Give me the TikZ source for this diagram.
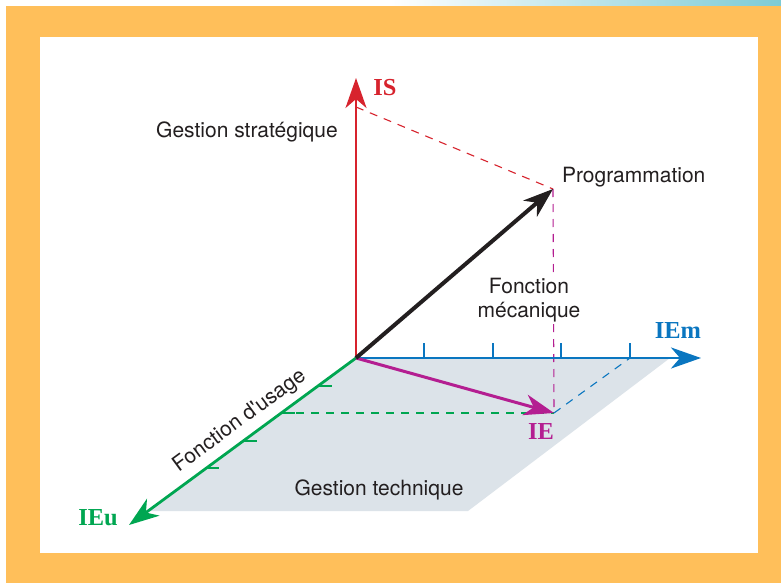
\documentclass[tikz,border=0pt]{standalone}
\usepackage{fontspec}
\setmainfont{TeX Gyre Heros}
\newfontfamily\axisfont{Liberation Serif}
\usetikzlibrary{arrows.meta,positioning}
\definecolor{frameorange}{RGB}{255,191,90}
\definecolor{stripteal}{RGB}{125,203,213}
\definecolor{planegray}{RGB}{220,227,233}
\definecolor{isred}{RGB}{215,35,45}
\definecolor{iemblue}{RGB}{10,118,192}
\definecolor{ieugreen}{RGB}{0,166,81}
\definecolor{iepurple}{RGB}{180,30,145}
\definecolor{vecblack}{RGB}{35,31,32}

\begin{document}
\begin{tikzpicture}
    [x=0.5pt, y=-0.5pt,
    axis/.style={line width=1.4pt, -{Stealth[length=15pt, width=10.5pt, inset=4.5pt]}},
    proj/.style={line width=0.55pt, dash pattern=on 4pt off 3.5pt},
    tick/.style={line width=0.6pt},
    lbl/.style={font=\fontsize{10.5}{12}\selectfont, text=vecblack},
    axislabel/.style={font=\axisfont\bfseries\fontsize{12.2}{14}\selectfont}]
        \useasboundingbox (0,0) rectangle (781,583);
        \shade[left color=white, right color=stripteal] (390,0) rectangle (781,6);
        \fill[frameorange] (6,6) rectangle (781,583);
        \fill[white] (40,37) rectangle (758,553);

        \coordinate (O) at (356,358);
        \coordinate (tipIS) at (356,78);
        \coordinate (tipIEm) at (701,358);
        \coordinate (tipIEu) at (129,525);
        \coordinate (P) at (553,189);
        \coordinate (IE) at (554,413);
        \coordinate (isP) at (356,107);
        \coordinate (m4) at (630,358);
        \coordinate (u2) at (281,413);

        \fill[planegray] (O) -- (670,358) -- (468,511) -- (149,511) -- cycle;

        \draw[proj, isred] (isP) -- (P);
        \draw[proj, iepurple] (P) -- (IE);
        \draw[proj, ieugreen] (u2) -- (IE);
        \draw[proj, iemblue] (IE) -- (m4);

        \draw[tick, iemblue] (424,358) -- ++(0,-15);
        \draw[tick, iemblue] (493,358) -- ++(0,-15);
        \draw[tick, iemblue] (561,358) -- ++(0,-15);
        \draw[tick, iemblue] (630,358) -- ++(0,-15);
        \draw[tick, ieugreen] (318,386) -- ++(14,0);
        \draw[tick, ieugreen] (281,413) -- ++(14,0);
        \draw[tick, ieugreen] (243,441) -- ++(14,0);
        \draw[tick, ieugreen] (205,468) -- ++(14,0);

        \draw[axis, isred] (O) -- (tipIS);
        \draw[axis, iemblue] (O) -- (tipIEm);
        \draw[axis, ieugreen] (O) -- node[lbl, sloped, above, pos=0.465] (usage) {Fonction d\textquotesingle usage} (tipIEu);
        \draw[axis, iepurple, line width=1.5pt] (O) -- (IE);
        \draw[axis, vecblack, line width=2pt] (O) -- (P);

        \node[axislabel, text=isred] (labIS) at (385,88) {IS};
        \node[axislabel, text=iemblue] (labIEm) at (678,331) {IEm};
        \node[axislabel, text=iepurple] (labIE) at (541,432) {IE};
        \node[axislabel, text=ieugreen] (labIEu) at (98,518) {IEu};

        \node[lbl] (strat) at (247,132) {Gestion stratégique};
        \node[lbl, anchor=south west, xshift=1pt, yshift=-2.5pt] (prog) at (P) {Programmation};
        \node[lbl, align=center, fill=white, inner sep=1pt] (meca) at (529,300) {Fonction\\mécanique};
        \node[lbl] (tech) at (379,490) {Gestion technique};
   \end{tikzpicture}
\end{document}
